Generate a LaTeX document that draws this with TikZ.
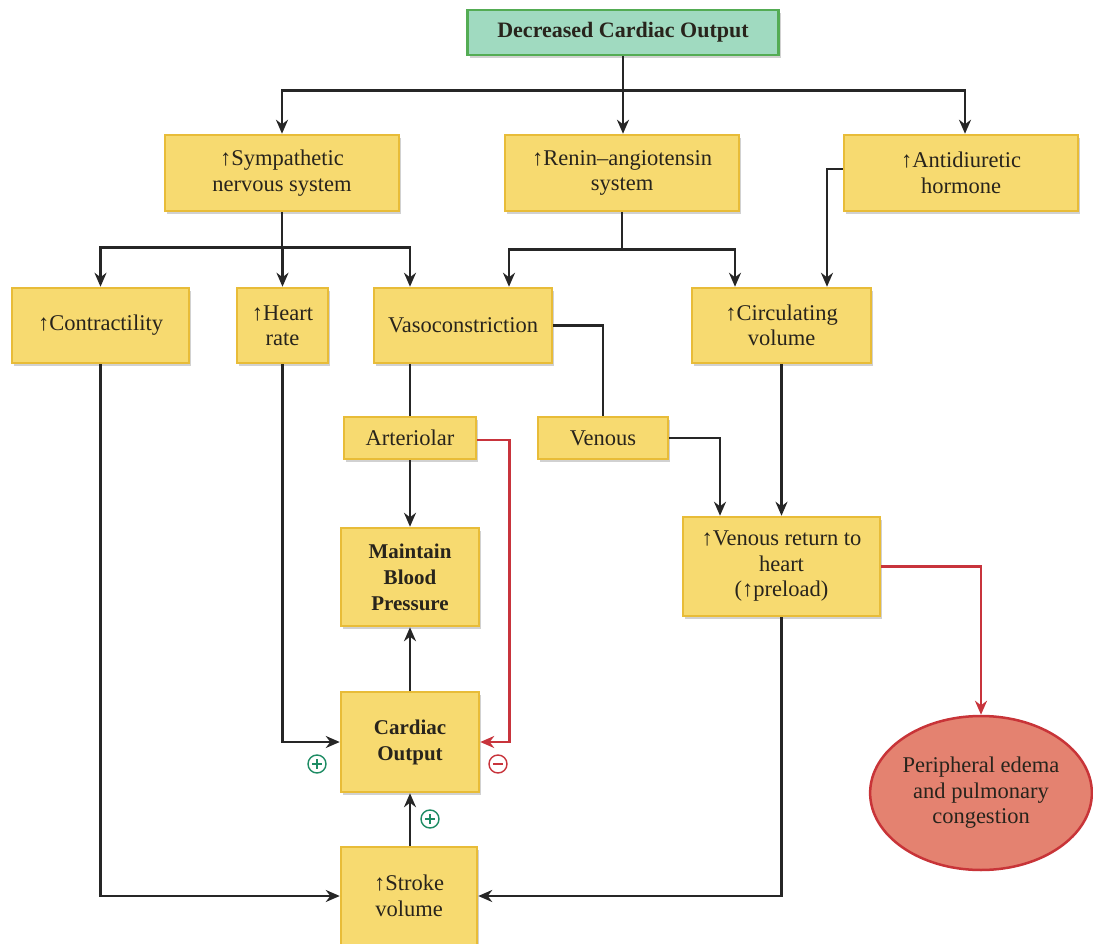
\documentclass[tikz,border=0pt]{standalone}
\usepackage{fontspec}
\setmainfont{Liberation Serif}
\usetikzlibrary{arrows.meta,shapes.geometric,shadows}
\definecolor{boxfill}{RGB}{247,218,112}
\definecolor{boxline}{RGB}{232,188,56}
\definecolor{dcofill}{RGB}{160,218,192}
\definecolor{dcoline}{RGB}{84,172,84}
\definecolor{ellfill}{RGB}{228,130,112}
\definecolor{ellline}{RGB}{200,52,56}
\definecolor{redline}{RGB}{200,52,60}
\definecolor{signgreen}{RGB}{30,140,100}
\definecolor{signred}{RGB}{200,52,60}
\definecolor{txt}{RGB}{40,36,28}
\tikzset{
  box/.style={draw=boxline, fill=boxfill, line width=2.5pt, inner sep=2pt, align=center,
    text=txt, font=\fontsize{22.5}{25.5}\selectfont,
    drop shadow={shadow xshift=2pt, shadow yshift=-3pt, opacity=0.18, fill=black}},
  boldbox/.style={box, font=\bfseries\fontsize{21}{26}\selectfont},
  arr/.style={draw=black!85, line width=2.6pt, -{Stealth[length=14pt,width=12pt]}},
  conn/.style={draw=black!85, line width=2.6pt},
  redarr/.style={draw=redline, line width=2.6pt, -{Stealth[length=14pt,width=12pt]}},
  sgn/.style={circle, draw, line width=1.4pt, minimum size=18pt, inner sep=0pt},
  sgnline/.style={line width=1.4pt}
}
\begin{document}
\begin{tikzpicture}[x=1pt,y=-1pt]
\clip (0,0) rectangle (1093,944);
\fill[white] (0,0) rectangle (1093,944);

% nodes
\node[boldbox, fill=dcofill, draw=dcoline, minimum width=311pt, minimum height=45pt,
      font=\bfseries\fontsize{22}{24}\selectfont] (dco) at (623,32.5) {Decreased Cardiac Output};

\node[box, minimum width=234pt, minimum height=76pt] (symp) at (282,173) {↑Sympathetic\\nervous system};
\node[box, minimum width=234pt, minimum height=76pt] (renin) at (622,173) {↑Renin–angiotensin\\system};
\node[box, minimum width=234pt, minimum height=76pt] (adh) at (961,173) {↑Antidiuretic\\hormone};

\node[box, minimum width=177pt, minimum height=75pt] (contr) at (100.5,325.5) {↑Contractility};
\node[box, minimum width=91pt, minimum height=75pt] (hr) at (282.5,325.5) {↑Heart\\rate};
\node[box, minimum width=178pt, minimum height=75pt] (vaso) at (463,325.5) {Vasoconstriction};
\node[box, minimum width=179pt, minimum height=75pt] (circ) at (781.5,325.5) {↑Circulating\\volume};

\node[box, minimum width=132pt, minimum height=42pt] (art) at (410,438) {Arteriolar};
\node[box, minimum width=130pt, minimum height=42pt] (ven) at (603,438) {Venous};

\node[boldbox, minimum width=138pt, minimum height=98pt] (mbp) at (410,577) {Maintain\\Blood\\Pressure};
\node[boldbox, minimum width=138pt, minimum height=100pt] (co) at (410,742) {Cardiac\\Output};
\node[box, minimum width=136pt, minimum height=98pt] (sv) at (409,896) {↑Stroke\\volume};

\node[box, minimum width=197pt, minimum height=99pt] (vr) at (781.5,566.5) {↑Venous return to\\heart\\(↑preload)};

\node[ellipse, draw=ellline, fill=ellfill, line width=2.5pt, minimum width=218pt, minimum height=154pt,
      align=center, text=txt, font=\fontsize{22.5}{25.5}\selectfont, inner sep=0pt] (ell) at (981,793)
      {Peripheral edema\\and pulmonary\\congestion};

% signs
\node[sgn, draw=signgreen] (plus1) at (317,764) {};
\draw[sgnline, signgreen] ([yshift=5pt]plus1.center) -- ([yshift=-5pt]plus1.center)
  ([xshift=-5pt]plus1.center) -- ([xshift=5pt]plus1.center);
\node[sgn, draw=signred] (minus1) at (498,764) {};
\draw[sgnline, signred] ([xshift=-5pt]minus1.center) -- ([xshift=5pt]minus1.center);
\node[sgn, draw=signgreen] (plus2) at (430,819) {};
\draw[sgnline, signgreen] ([yshift=5pt]plus2.center) -- ([yshift=-5pt]plus2.center)
  ([xshift=-5pt]plus2.center) -- ([xshift=5pt]plus2.center);

% junction coordinates
\coordinate (j1) at ([yshift=-34pt]dco.south);
\coordinate (j2) at ([yshift=-35pt]symp.south);
\coordinate (j3) at ([yshift=-37pt]renin.south);

% connectors
\draw[conn] (dco.south) -- (j1);
\draw[arr] (j1) -- (j1 |- renin.north);
\draw[arr] (j1) -| (symp.north);
\draw[arr] (j1) -| ([xshift=4pt]adh.north);

\draw[conn] (symp.south) -- (j2);
\draw[arr] (j2) -| (contr.north);
\draw[arr] (j2) -| (hr.north);
\draw[arr] (j2) -| ([xshift=-53pt]vaso.north);

\draw[conn] (renin.south) -- (j3);
\draw[arr] (j3) -| ([xshift=46pt]vaso.north);
\draw[arr] (j3) -| ([xshift=-46.5pt]circ.north);

\draw[arr] ([yshift=4pt]adh.west) -| ([xshift=45.5pt]circ.north);

\draw[conn] (art.north |- vaso.south) -- (art.north);
\draw[conn] (vaso.east) -| (ven.north);

\draw[arr] (art.south) -- (mbp.north);
\draw[redarr] ([yshift=-2pt]art.east) -- ++(32,0) |- (co.east);

\draw[arr] (ven.east) -| ([xshift=-61.5pt]vr.north);
\draw[arr] (circ.south) -- (vr.north);

\draw[arr] (co.north) -- (mbp.south);
\draw[arr] (hr.south) |- (co.west);
\draw[arr] (sv.north -| co.south) -- (co.south);

\draw[arr] (contr.south) |- (sv.west);
\draw[arr] (vr.south) |- (sv.east);

\draw[redarr] (vr.east) -| (ell.north);
\end{tikzpicture}
\end{document}
